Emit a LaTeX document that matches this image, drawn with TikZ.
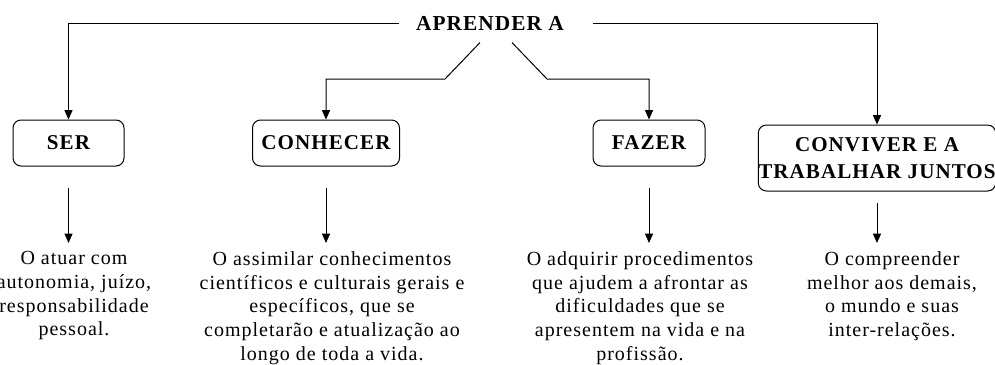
\documentclass[tikz,border=0pt]{standalone}
\usepackage{fontspec}
\setmainfont{Liberation Serif}[LetterSpace=5]
\usetikzlibrary{arrows.meta}
\begin{document}
\begin{tikzpicture}[x=0.75pt,y=-0.75pt,
  line width=0.75pt,
  arr/.style={-{Triangle[width=6pt,length=7pt]}},
  box/.style={draw,rounded corners=6pt,inner sep=0pt,align=center,
    font=\fontsize{15.8}{20}\selectfont\bfseries},
  desc/.style={anchor=north,inner sep=0pt,align=center,
    font=\fontsize{15}{17.8}\selectfont}]
\useasboundingbox (0,0) rectangle (995,364);
\node[inner sep=0pt,font=\fontsize{16}{17}\selectfont\bfseries] (ap) at (490,23) {APRENDER A};
\node[box,minimum width=83.25pt,minimum height=34.5pt] (ser) at (68.5,143) {SER};
\node[box,minimum width=110.25pt,minimum height=34.5pt] (con) at (326,143) {CONHECER};
\node[box,minimum width=84pt,minimum height=34.5pt] (faz) at (649,143) {FAZER};
\node[box,minimum width=176.25pt,minimum height=49.5pt] (conv) at (877,158) {CONVIVER E A\\TRABALHAR JUNTOS};
\node[desc] (t1) at (74,251) {O atuar com\\autonomia, juízo,\\responsabilidade\\pessoal.};
\node[desc] (t2) at (332,251) {O assimilar conhecimentos\\científicos e culturais gerais e\\específicos, que se\\completarão e atualização ao\\longo de toda a vida.};
\node[desc] (t3) at (640,251) {O adquirir procedimentos\\que ajudem a afrontar as\\dificuldades que se\\apresentem na vida e na\\profissão.};
\node[desc] (t4) at (892,251) {O compreender\\melhor aos demais,\\o mundo e suas\\inter-relações.};
\coordinate (bc) at (445,79);
\coordinate (bf) at (547,79);
\draw[arr] ([xshift=-12.75pt]ap.west) -| (ser.north);
\draw[arr] ([xshift=21.75pt]ap.east) -| (conv.north);
\draw[arr] ([xshift=-7.5pt,yshift=-9pt]ap.south) -- (bc) -| (con.north);
\draw[arr] ([xshift=16.5pt,yshift=-9pt]ap.south) -- (bf) -| (faz.north);
\draw[arr] ([yshift=-15.75pt]ser.south) -- ([yshift=6pt]ser.south |- t1.north);
\draw[arr] ([yshift=-15.75pt]con.south) -- ([yshift=6pt]con.south |- t2.north);
\draw[arr] ([yshift=-15.75pt]faz.south) -- ([yshift=6pt]faz.south |- t3.north);
\draw[arr] ([yshift=-8.25pt]conv.south) -- ([yshift=6pt]conv.south |- t4.north);
\end{tikzpicture}
\end{document}
